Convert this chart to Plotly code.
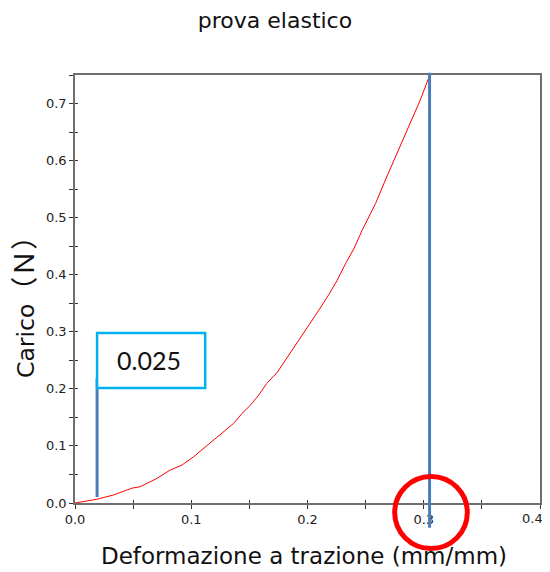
import plotly.graph_objects as go

# ---- data ----
strain = [0, 0.0187, 0.033, 0.049, 0.056, 0.0704, 0.0819, 0.092, 0.102, 0.1106,
          0.1178, 0.128, 0.1365, 0.1437, 0.151, 0.158, 0.165, 0.174, 0.184, 0.1925,
          0.201, 0.2098, 0.218, 0.2256, 0.2328, 0.240, 0.247, 0.2586, 0.267, 0.2744,
          0.283, 0.290, 0.2974, 0.3037, 0.305]
load = [0, 0.0065, 0.014, 0.026, 0.0285, 0.043, 0.0578, 0.0665, 0.081, 0.0958,
        0.107, 0.125, 0.1396, 0.157, 0.1716, 0.189, 0.2096, 0.229, 0.259, 0.285,
        0.312, 0.338, 0.364, 0.3905, 0.4198, 0.446, 0.478, 0.525, 0.566, 0.600,
        0.640, 0.673, 0.708, 0.742, 0.75]

x_ticks = [0.0, 0.1, 0.2, 0.3, 0.4]
x_tick_labels = ["0.0", "0.1", "0.2", "0.3", "0.4"]
y_ticks = [0.0, 0.1, 0.2, 0.3, 0.4, 0.5, 0.6, 0.7]
y_tick_labels = ["0.0", "0.1", "0.2", "0.3", "0.4", "0.5", "0.6", "0.7"]

title_text = "prova elastico"
x_title = "Deformazione a trazione (mm/mm)"
y_title = "Carico<span style='font-family:Noto Sans CJK JP;font-size:27px'>（Ｎ）</span>"

# marker lines: start of elastic region and end of test
start_x = 0.019
start_y = [0.0105, 0.219]
end_x = 0.305
label_text = "0.025"

FONT = "DejaVu Sans, Verdana, sans-serif"
AXIS_COL = "#6e6e6e"
BLUE = "#4a7ebb"
TICKFONT = dict(family=FONT, size=13, color="#222222")

# page body has an 8px margin: figure is shrunk so the plot lands where the reference has it
W, H = 542, 560

fig = go.Figure()
fig.add_trace(go.Scatter(x=strain, y=load, mode="lines",
                         line=dict(color="#ff0000", width=1), showlegend=False,
                         hoverinfo="skip"))

# invisible trace on overlay axes (for crossing tick marks)
fig.add_trace(go.Scatter(x=[0], y=[0], xaxis="x2", yaxis="y2", mode="markers",
                         marker=dict(opacity=0), showlegend=False, hoverinfo="skip"))

axis_common = dict(showgrid=False, zeroline=False, showline=True, linecolor=AXIS_COL,
                   linewidth=1.5, mirror=True, ticks="outside", ticklen=4,
                   tickcolor="#333333", tickwidth=1, automargin=False,
                   tickfont=TICKFONT)

# the last x label sits at the page edge: it is drawn as an annotation nudged inward
x_axis_text = x_tick_labels[:-1] + [""]

fig.update_layout(
    width=W, height=H,
    paper_bgcolor="white", plot_bgcolor="white",
    margin=dict(l=67, r=10, t=67, b=65),
    title=dict(text=title_text, x=267 / W, xref="container", xanchor="center",
               y=1 - 5 / H, yref="container", yanchor="top",
               font=dict(family=FONT, size=22, color="#111111")),
    xaxis=dict(range=[0, 0.4], tickvals=x_ticks, ticktext=x_axis_text,
               minor=dict(dtick=0.05, tick0=0, ticks="outside", ticklen=4, tickcolor="#333333"),
               **axis_common),
    yaxis=dict(range=[0, 0.75], tickvals=y_ticks, ticktext=y_tick_labels,
               minor=dict(dtick=0.05, tick0=0, ticks="outside", ticklen=4, tickcolor="#333333"),
               **axis_common),
    xaxis2=dict(range=[0, 0.4], overlaying="x", anchor="y2", showticklabels=False,
                showgrid=False, zeroline=False, ticks="inside", ticklen=3,
                tickvals=x_ticks, tickcolor="#333333",
                minor=dict(dtick=0.05, tick0=0, ticks="inside", ticklen=3, tickcolor="#333333")),
    yaxis2=dict(range=[0, 0.75], overlaying="y", anchor="x2", showticklabels=False,
                showgrid=False, zeroline=False, ticks="inside", ticklen=3,
                tickvals=y_ticks, tickcolor="#333333",
                minor=dict(dtick=0.05, tick0=0, ticks="inside", ticklen=3, tickcolor="#333333")),
)

# last x tick label
fig.add_annotation(x=x_ticks[-1], y=0, xref="x", yref="paper", text=x_tick_labels[-1],
                   showarrow=False, xanchor="center", yanchor="top", xshift=-8, yshift=-6,
                   font=TICKFONT)

# axis titles
fig.add_annotation(x=0.4925, y=-0.124, xref="paper", yref="paper", text=x_title,
                   showarrow=False, xanchor="center", yanchor="middle",
                   font=dict(family=FONT, size=23, color="#111111"))
fig.add_annotation(x=-0.1118, y=0.472, xref="paper", yref="paper", text=y_title,
                   showarrow=False, textangle=-90, xanchor="center", yanchor="middle",
                   font=dict(family=FONT, size=23.5, color="#111111"))

# vertical blue marker lines
fig.add_shape(type="line", xref="x", yref="y", x0=start_x, x1=start_x,
              y0=start_y[0], y1=start_y[1], line=dict(color=BLUE, width=3))
fig.add_shape(type="line", xref="x", yref="paper", x0=end_x, x1=end_x,
              y0=-0.058, y1=1.005, line=dict(color=BLUE, width=3))

# label box
fig.add_shape(type="rect", xref="x", yref="y", x0=start_x, x1=0.112, y0=0.2014, y1=0.2977,
              line=dict(color="#00b0f0", width=2.5), fillcolor="white")
fig.add_annotation(x=0.0638, y=0.250, xref="x", yref="y", text=label_text, showarrow=False,
                   font=dict(family="Lato, Open Sans, sans-serif", size=25, color="#111111"))

# red highlight circle
fig.add_shape(type="circle", xref="x", yref="paper", x0=0.2750, x1=0.3375,
              y0=-0.1063, y1=0.0619, line=dict(color="#ff0000", width=5))

fig.write_html("out.html")
